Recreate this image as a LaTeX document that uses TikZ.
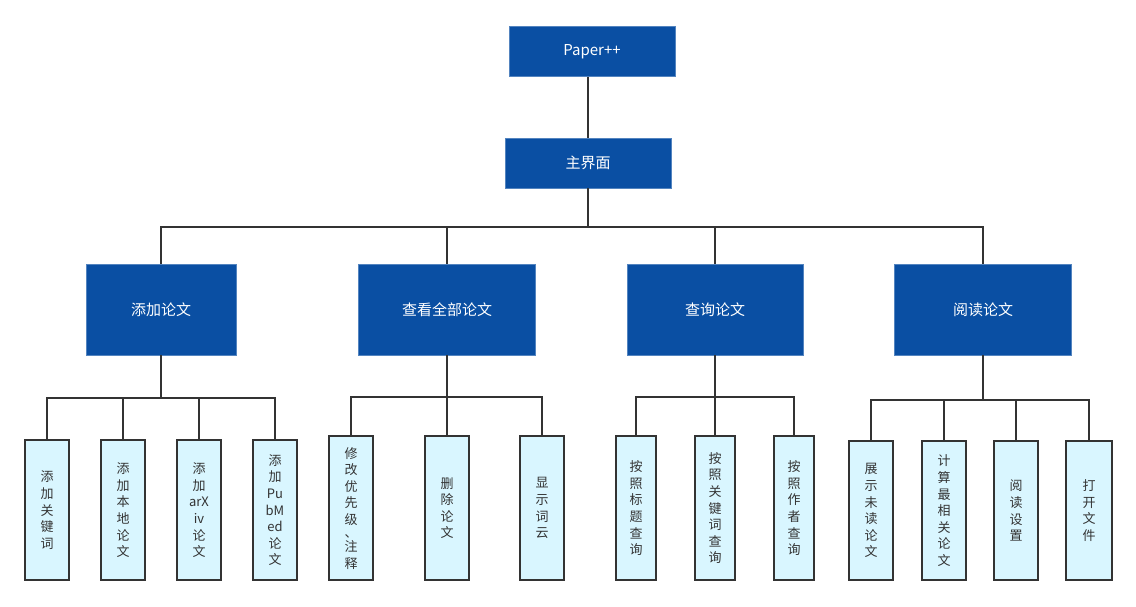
\documentclass[tikz,border=0pt]{standalone}
\usepackage{fontspec}
\usepackage{tikz}
\usetikzlibrary{positioning, calc}
\newfontfamily\cjk{Noto Sans CJK SC}
\definecolor{pdblue}{HTML}{0A4FA3}
\definecolor{pdleaf}{HTML}{D9F6FF}
\definecolor{pdline}{HTML}{333333}

\begin{document}
\begin{tikzpicture}[x=1pt, y=-1pt, font=\cjk,
      top/.style={fill=pdblue, draw=pdblue!70!white, line width=.6pt, text=white, minimum width=166pt, minimum height=50pt, font=\cjk\fontsize{15}{17}\selectfont},
      mod/.style={top, minimum width=177pt, minimum height=91pt},
      leaf/.style={draw=pdline, fill=pdleaf, line width=1.6pt, minimum width=44pt, minimum height=140pt, anchor=south, align=center, text=pdline, font=\cjk\fontsize{13}{16.6}\selectfont},
      wire/.style={draw=pdline, line width=1.6pt}]

      \useasboundingbox (0,0) rectangle (1136,606);

      \node[top] (paper) at (592,51.5) {Paper++};
      \node[top] (main) at (588,163) {主界面};

      \node[mod, minimum width=150pt] (add) at (161,309.5) {添加论文};
      \node[mod] (view) at (447,309.5) {查看全部论文};
      \node[mod, minimum width=176pt] (query) at (715,309.5) {查询论文};
      \node[mod] (read) at (983,309.5) {阅读论文};

      \node[leaf] (a1) at (47,581) {添\\加\\关\\键\\词};
      \node[leaf] (a2) at (123,581) {添\\加\\本\\地\\论\\文};
      \node[leaf] (a3) at (199,581) {添\\加\\arX\\iv\\论\\文};
      \node[leaf] (a4) at (275,581) {添\\加\\Pu\\bM\\ed\\论\\文};

      \node[leaf, minimum height=144pt] (v1) at (351,581) {修\\改\\优\\先\\级\\[-4pt]、\\[-2pt]注\\释};
      \node[leaf, minimum height=144pt] (v2) at (447,581) {删\\除\\论\\文};
      \node[leaf, minimum height=144pt] (v3) at (542,581) {显\\示\\词\\云};

      \node[leaf, minimum height=144pt, minimum width=40pt] (q1) at (636,581) {按\\照\\标\\题\\查\\询};
      \node[leaf, minimum height=144pt, minimum width=40pt] (q2) at (715,581) {按\\照\\关\\键\\词\\查\\询};
      \node[leaf, minimum height=144pt, minimum width=40pt] (q3) at (794,581) {按\\照\\作\\者\\查\\询};

      \node[leaf, minimum height=139pt] (r1) at (871,581) {展\\示\\未\\读\\论\\文};
      \node[leaf, minimum height=139pt] (r2) at (944,581) {计\\算\\最\\相\\关\\论\\文};
      \node[leaf, minimum height=139pt] (r3) at (1016,581) {阅\\读\\设\\置};
      \node[leaf, minimum height=139pt, minimum width=46pt] (r4) at (1089,581) {打\\开\\文\\件};

      % bus points
      \coordinate (bmain) at (588,227);
      \coordinate (badd) at (161,398);
      \coordinate (bview) at (447,397);
      \coordinate (bquery) at (715,397);
      \coordinate (bread) at (983,400);

      \draw[wire] (paper.south -| main) -- (main.north);
      \draw[wire] (main.south) -- (bmain);
      \foreach \n in {add, view, query, read} \draw[wire] (bmain) -| (\n.north);

      \draw[wire] (add.south) -- (badd);
      \foreach \n in {a1, a2, a3, a4} \draw[wire] (badd) -| (\n.north);
      \draw[wire] (view.south) -- (bview);
      \foreach \n in {v1, v2, v3} \draw[wire] (bview) -| (\n.north);
      \draw[wire] (query.south) -- (bquery);
      \foreach \n in {q1, q2, q3} \draw[wire] (bquery) -| (\n.north);
      \draw[wire] (read.south) -- (bread);
      \foreach \n in {r1, r2, r3, r4} \draw[wire] (bread) -| (\n.north);
    \end{tikzpicture}
\end{document}
